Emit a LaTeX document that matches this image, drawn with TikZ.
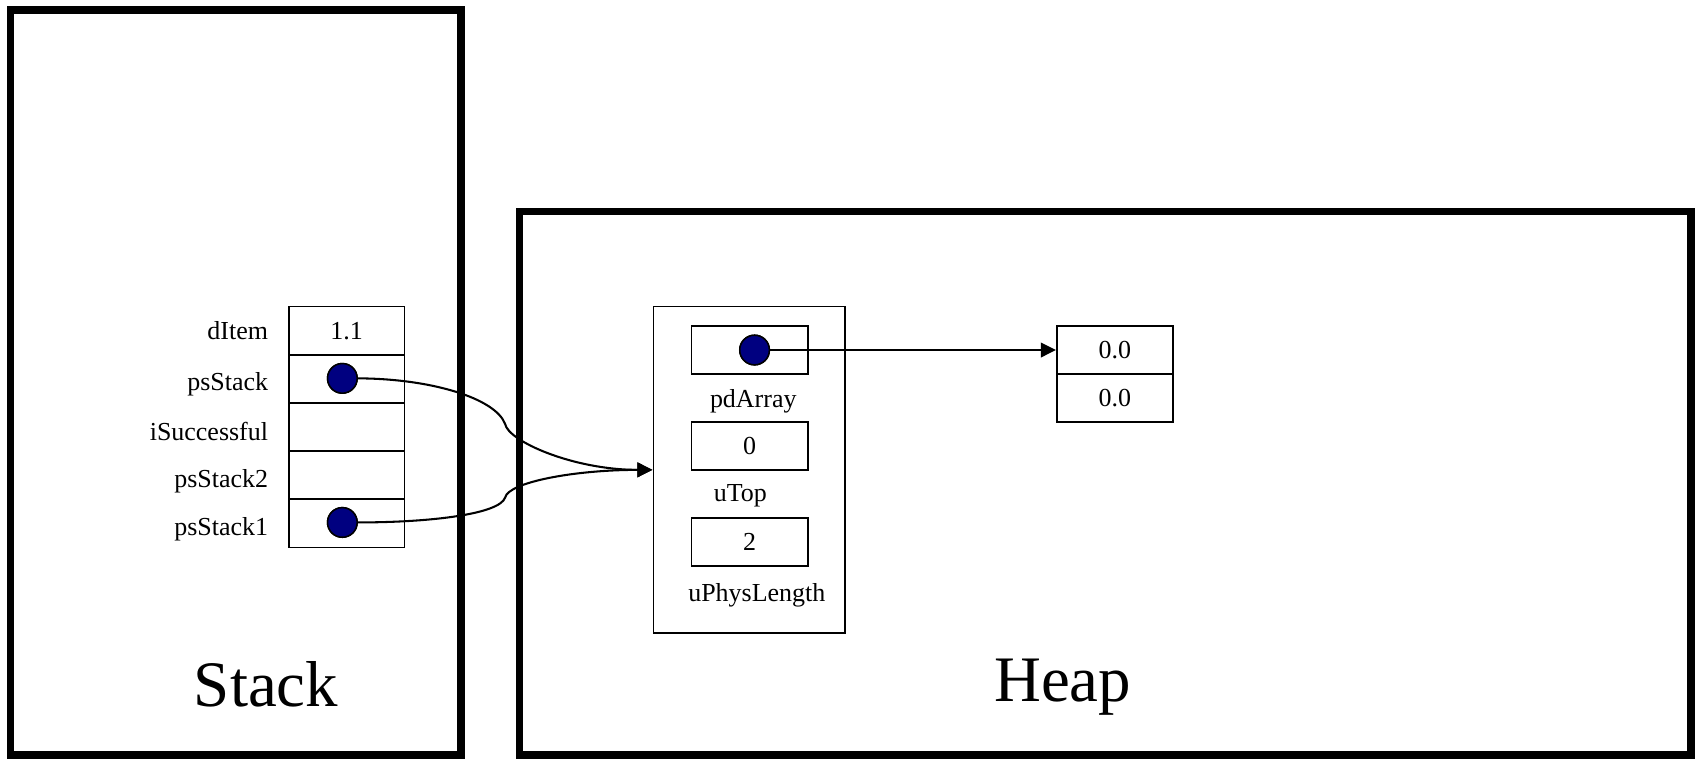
\documentclass[tikz,border=0pt]{standalone}
\usepackage{fontspec}
\setmainfont{Liberation Serif}
\usetikzlibrary{arrows.meta}
\definecolor{dotblue}{RGB}{0,0,128}
\begin{document}
\begin{tikzpicture}[x=1pt,y=-1pt,
  region/.style={draw, line width=7pt, inner sep=0pt},
  cell/.style={draw, line width=1.5pt, inner sep=0pt, minimum width=106.6pt, minimum height=44.5pt, font=\fontsize{24}{28}\selectfont},
  hcell/.style={cell, minimum width=107.4pt, minimum height=44.4pt},
  fieldlbl/.style={inner sep=0pt, anchor=base east, font=\fontsize{24}{28}\selectfont},
  sublbl/.style={inner sep=0pt, anchor=base, font=\fontsize{24}{28}\selectfont},
  biglbl/.style={inner sep=0pt, anchor=base, font=\fontsize{60}{70}\selectfont},
  pdot/.style={circle, draw, line width=1.4pt, fill=dotblue, minimum size=27.4pt, inner sep=0pt},
  conn/.style={line width=1.9pt},
  arr/.style={line width=1.9pt, -{Triangle[length=14pt,width=13.5pt]}}]
\useasboundingbox (0,0) rectangle (1568,702);
% regions
\node[region, minimum width=416.6pt, minimum height=688.6pt] (stackbox) at (218,353.7) {};
\node[region, minimum width=1083.1pt, minimum height=502.5pt] (heapbox) at (1021.85,446.75) {};
\node[biglbl] (stacklbl) at (246,653) {Stack};
\node[biglbl] (heaplbl) at (982.5,649) {Heap};
% stack frame
\node[cell] (c1) at (320.5,305.7) {1.1};
\node[cell] (c2) at (320.5,350.25) {};
\node[cell] (c3) at (320.5,394.85) {};
\node[cell] (c4) at (320.5,439.35) {};
\node[cell] (c5) at (320.5,483.75) {};
\node[fieldlbl] (l1) at (248,314) {dItem};
\node[fieldlbl] (l2) at (248,361) {psStack};
\node[fieldlbl] (l3) at (248,407) {iSuccessful};
\node[fieldlbl] (l4) at (248,451) {psStack2};
\node[fieldlbl] (l5) at (248,495) {psStack1};
% heap struct
\node[draw, line width=1.5pt, inner sep=0pt, minimum width=177.5pt, minimum height=301.8pt] (hs) at (692.75,434.4) {};
\node[hcell] (pd) at (693.1,323.6) {};
\node[hcell] (ut) at (693.1,412.3) {0};
\node[hcell] (up) at (693.1,501) {2};
\node[sublbl] (pdl) at (696.4,377) {pdArray};
\node[sublbl] (utl) at (684.4,463.8) {uTop};
\node[sublbl] (upl) at (699.7,556) {uPhysLength};
% array
\node[hcell] (a1) at (1030.7,323.6) {0.0};
\node[hcell] (a2) at (1030.7,367.85) {0.0};
% dots
\node[pdot] (d1) at (316.5,349.8) {};
\node[pdot] (d2) at (316.5,483) {};
\node[pdot] (d3) at (697.6,323.6) {};
% connectors
\coordinate (k1) at (467,392);
\coordinate (k2) at (467,460);
\draw[arr] (d1.east) .. controls (398,350) and (458,368) .. (k1) .. controls (470,408) and (530,434.4) .. (hs.west);
\draw[arr] (d2.east) .. controls (400,483) and (462,475) .. (k2) .. controls (470,446) and (530,434.4) .. (hs.west);
\draw[arr] (d3.east) -- (a1.west);
% redraw dots on top
\node[pdot] at (d1) {};
\node[pdot] at (d2) {};
\node[pdot] at (d3) {};
\end{tikzpicture}
\end{document}
